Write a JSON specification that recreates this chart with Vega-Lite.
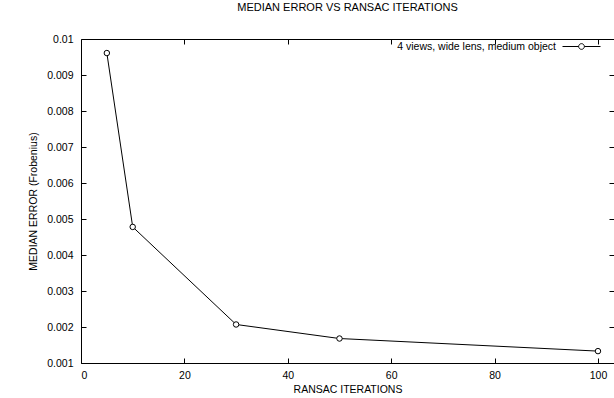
{
  "$schema": "https://vega.github.io/schema/vega-lite/v6.json",
  "width": 533,
  "height": 324,
  "autosize": {"type": "none"},
  "padding": {"left": 81, "top": 39, "right": 0, "bottom": 35},
  "background": "white",
  "config": {
    "font": "Liberation Sans",
    "view": {"stroke": "black", "strokeWidth": 1},
    "axis": {
      "domain": false,
      "labelColor": "black",
      "titleColor": "black",
      "tickColor": "black",
      "tickSize": 5,
      "tickWidth": 1,
      "labelFont": "Liberation Sans",
      "titleFont": "Liberation Sans",
      "labelFontSize": 10.5,
      "titleFontSize": 10.5,
      "titleFontWeight": "normal",
      "grid": false,
      "offset": -5
    }
  },
  "title": {
    "text": "MEDIAN ERROR VS  RANSAC ITERATIONS",
    "font": "Liberation Sans",
    "fontSize": 11,
    "fontWeight": "normal",
    "color": "black",
    "anchor": "middle",
    "offset": 14
  },
  "data": {
    "values": [
      {"iterations": 5, "error": 0.00961, "series": "4 views, wide lens, medium object"},
      {"iterations": 10, "error": 0.00478, "series": "4 views, wide lens, medium object"},
      {"iterations": 30, "error": 0.00207, "series": "4 views, wide lens, medium object"},
      {"iterations": 50, "error": 0.00168, "series": "4 views, wide lens, medium object"},
      {"iterations": 100, "error": 0.00133, "series": "4 views, wide lens, medium object"}
    ]
  },
  "layer": [
    {
      "mark": {"type": "point", "opacity": 0},
      "encoding": {
        "x": {
          "field": "iterations",
          "type": "quantitative",
          "scale": {"domain": [0, 103.1], "nice": false},
          "axis": {"orient": "top", "values": [20, 40, 60, 80, 100], "labels": false, "title": null}
        },
        "y": {
          "field": "error",
          "type": "quantitative",
          "scale": {"domain": [0.001, 0.01], "nice": false, "zero": false},
          "axis": {"orient": "right", "values": [0.002, 0.003, 0.004, 0.005, 0.006, 0.007, 0.008, 0.009], "labels": false, "title": null}
        }
      }
    },
    {
      "mark": {"type": "line", "strokeWidth": 1, "point": {"filled": false, "fill": "white", "stroke": "black", "size": 30, "strokeWidth": 1}},
      "encoding": {
        "x": {
          "field": "iterations",
          "type": "quantitative",
          "scale": {"domain": [0, 103.1], "nice": false},
          "axis": {
            "orient": "bottom",
            "title": "RANSAC ITERATIONS",
            "values": [0, 20, 40, 60, 80, 100],
            "labelPadding": 7,
            "titlePadding": 4
          }
        },
        "y": {
          "field": "error",
          "type": "quantitative",
          "scale": {"domain": [0.001, 0.01], "nice": false, "zero": false},
          "axis": {
            "orient": "left",
            "title": "MEDIAN ERROR (Frobenius)",
            "values": [0.001, 0.002, 0.003, 0.004, 0.005, 0.006, 0.007, 0.008, 0.009, 0.01],
            "format": "~g",
            "labelPadding": 8,
            "titlePadding": 8
          }
        },
        "color": {
          "field": "series",
          "type": "nominal",
          "scale": {"range": ["black"]},
          "legend": {
            "title": null,
            "orient": "none",
            "legendX": 481,
            "legendY": -12,
            "padding": 0,
            "symbolType": "M-1,0H-0.15M0.15,0H1M-0.15,0A0.15,0.15 0 1,0 0.15,0A0.15,0.15 0 1,0 -0.15,0",
            "symbolSize": 1444,
            "symbolStrokeWidth": 1,
            "symbolStrokeColor": "black",
            "symbolFillColor": "white",
            "labelAlign": "right",
            "labelOffset": -45,
            "labelFont": "Liberation Sans",
            "labelFontSize": 10.5,
            "labelColor": "black",
            "labelLimit": 400
          }
        }
      }
    }
  ],
  "resolve": {"axis": {"x": "independent", "y": "independent"}}
}
